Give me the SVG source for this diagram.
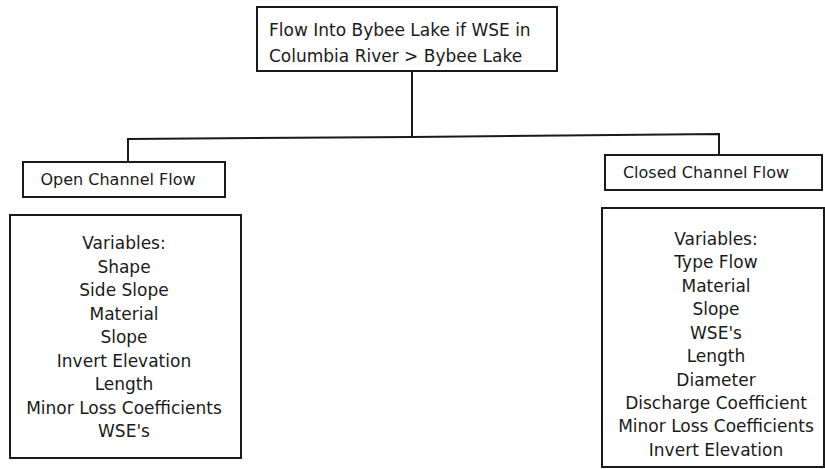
<svg xmlns="http://www.w3.org/2000/svg" width="825" height="469" viewBox="0 0 825 469">
<style>
.box{fill:#fff;stroke:#1a1a1a;stroke-width:2}
.conn{fill:none;stroke:#1a1a1a;stroke-width:2}
text{font-family:"DejaVu Sans","Liberation Sans",sans-serif;font-size:17px;fill:#1a1a1a;text-anchor:middle}
.l{text-anchor:start}
.h{font-size:16px}
</style>
<rect width="825" height="469" fill="#fff"/>
<g id="connectors">
<polyline class="conn" points="412,71 412,137"/>
<polyline class="conn" points="128,162 128,139 412,137 719,134 719,155"/>
</g>
<g id="root">
<rect class="box" x="257" y="7" width="300" height="64"/>
<text class="l" x="269" y="36">Flow Into Bybee Lake if WSE in</text>
<text class="l" x="269" y="62">Columbia River &gt; Bybee Lake</text>
</g>
<g id="open">
<rect class="box" x="23" y="162" width="202" height="35"/>
<text class="h" x="118" y="185">Open Channel Flow</text>
</g>
<g id="openvars">
<rect class="box" x="10" y="215" width="231" height="243"/>
<text x="124" y="249">Variables:</text>
<text x="124" y="273">Shape</text>
<text x="124" y="296">Side Slope</text>
<text x="124" y="320">Material</text>
<text x="124" y="343">Slope</text>
<text x="124" y="367">Invert Elevation</text>
<text x="124" y="390">Length</text>
<text x="124" y="414">Minor Loss Coefficients</text>
<text x="124" y="437">WSE's</text>
</g>
<g id="closed">
<rect class="box" x="605" y="155" width="217" height="35"/>
<text class="h" x="706" y="178">Closed Channel Flow</text>
</g>
<g id="closedvars">
<rect class="box" x="602" y="208" width="222" height="259"/>
<text x="716" y="245">Variables:</text>
<text x="716" y="268">Type Flow</text>
<text x="716" y="292">Material</text>
<text x="716" y="315">Slope</text>
<text x="716" y="339">WSE's</text>
<text x="716" y="362">Length</text>
<text x="716" y="386">Diameter</text>
<text x="716" y="409">Discharge Coefficient</text>
<text x="716" y="432">Minor Loss Coefficients</text>
<text x="716" y="456">Invert Elevation</text>
</g>
</svg>
